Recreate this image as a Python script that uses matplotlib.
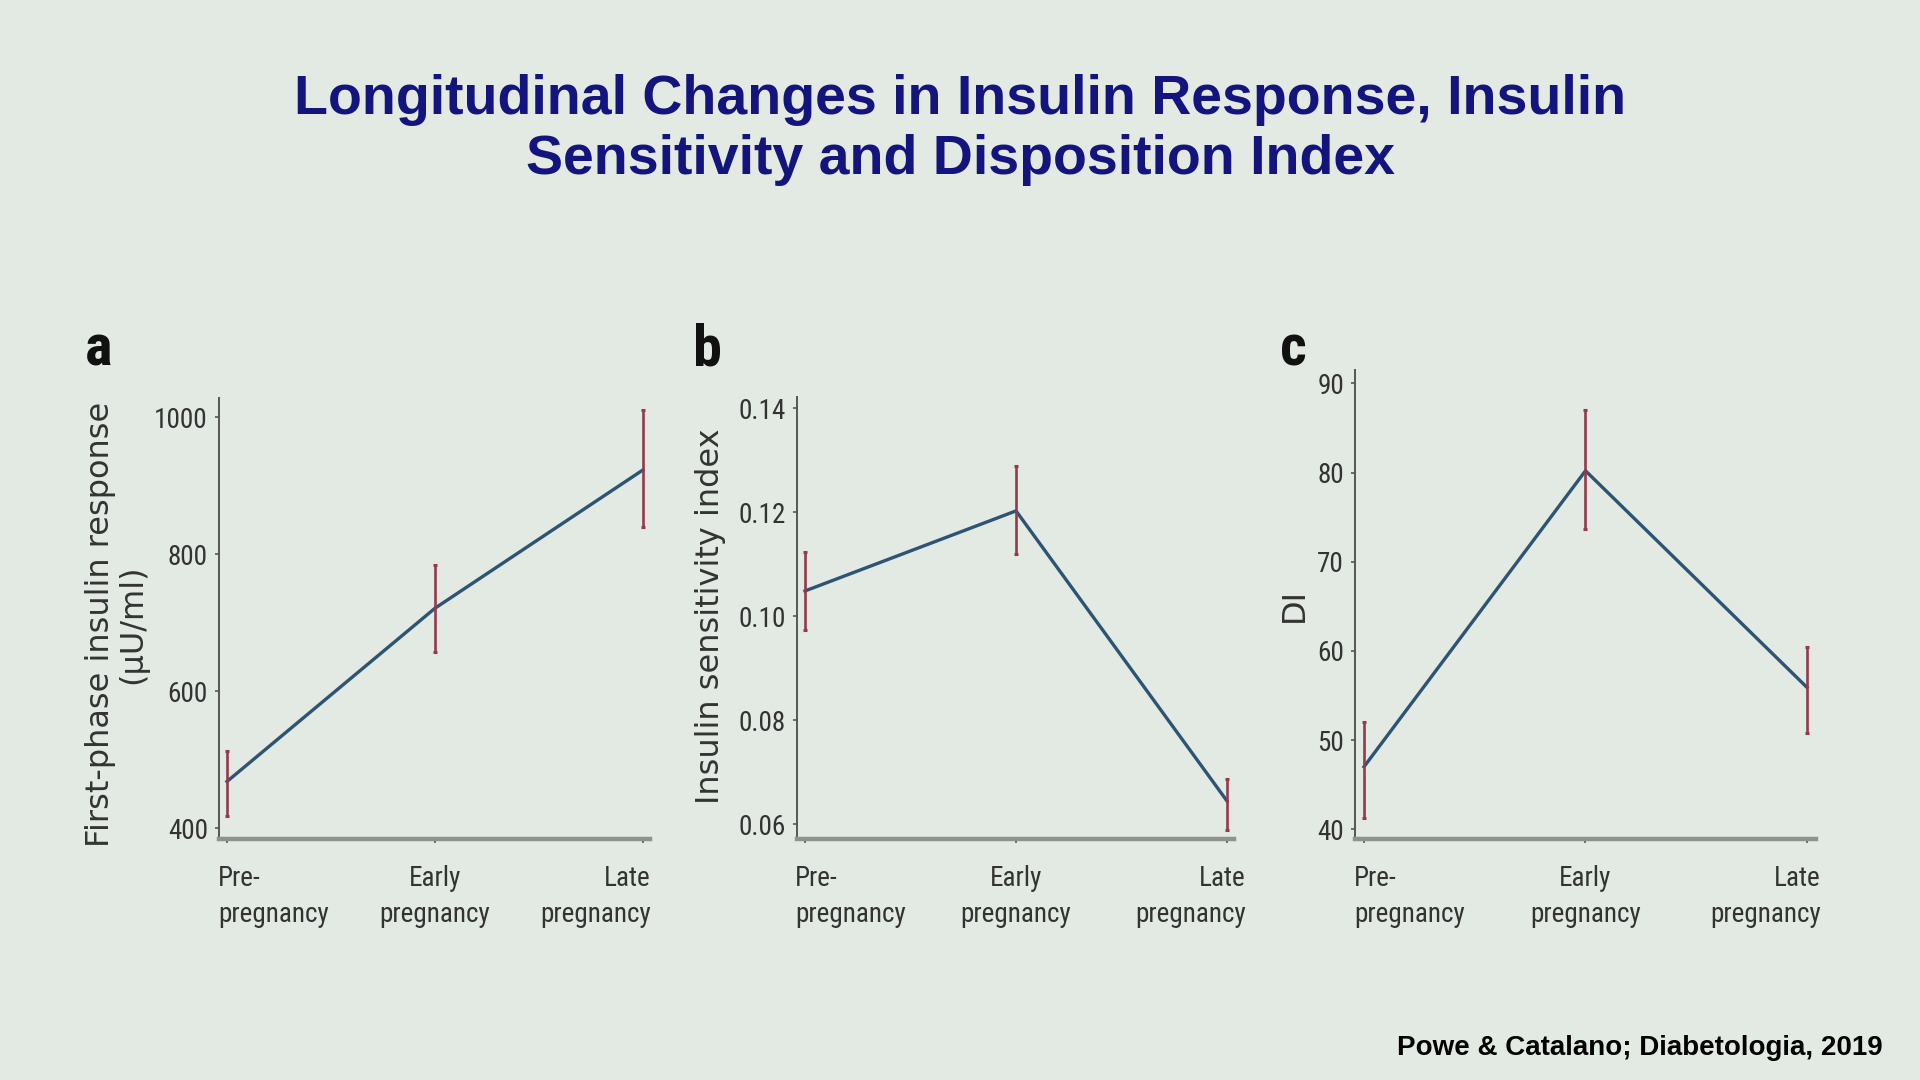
import os
import matplotlib
matplotlib.use('Agg')
import matplotlib.pyplot as plt
from matplotlib import font_manager as fm
from matplotlib.font_manager import FontProperties
from matplotlib.transforms import ScaledTranslation

names = {f.name for f in fm.fontManager.ttflist}
SANS = 'Liberation Sans' if 'Liberation Sans' in names else 'DejaVu Sans'


def find_file(keys):
    for key in keys:
        for f in fm.fontManager.ttflist:
            if key in os.path.basename(f.fname):
                return f.fname
    return None


cond_reg = find_file(['LiberationSansNarrow-Regular', 'RobotoCondensed-Regular',
                      'NotoSans-Condensed.', 'OpenSans-CondensedRegular', 'OpenSans_Condensed-Regular'])
cond_bold = find_file(['LiberationSansNarrow-Bold.', 'RobotoCondensed-Bold.',
                       'NotoSans-CondensedBold.', 'OpenSans-CondensedBold', 'OpenSans_Condensed-Bold.'])

if cond_reg:
    TICK_FP = FontProperties(fname=cond_reg, size=19.5)
else:
    TICK_FP = FontProperties(family=SANS, size=18)
if cond_bold:
    LETTER_FP = FontProperties(fname=cond_bold, size=42)
else:
    LETTER_FP = FontProperties(family=SANS, weight='bold', size=39)

# ---------------- data ----------------
categories = ['Pre-\npregnancy', 'Early\npregnancy', 'Late\npregnancy']

a_mean = [468, 721, 923]
a_low = [418, 657, 839]
a_high = [513, 784, 1010]
a_ticks = [400, 600, 800, 1000]
a_ticklabels = ['400', '600', '800', '1000']

b_mean = [0.1049, 0.1203, 0.0645]
b_low = [0.0974, 0.1121, 0.0589]
b_high = [0.1123, 0.1290, 0.0688]
b_ticks = [0.06, 0.08, 0.10, 0.12, 0.14]
b_ticklabels = ['0.06', '0.08', '0.10', '0.12', '0.14']

c_mean = [47.0, 80.2, 55.9]
c_low = [41.3, 73.7, 50.8]
c_high = [52.0, 87.0, 60.4]
c_ticks = [40, 50, 60, 70, 80, 90]
c_ticklabels = ['40', '50', '60', '70', '80', '90']

title_lines = ['Longitudinal Changes in Insulin Response, Insulin',
               'Sensitivity and Disposition Index']
footer = 'Powe & Catalano; Diabetologia, 2019'

# ---------------- style ----------------
BG = '#e3e9e3'
LINE = '#2d5472'
ERR = '#953a4b'
TXT = '#333333'
TITLE = '#14147f'

fig = plt.figure(figsize=(19.2, 10.8), dpi=100)
fig.patch.set_facecolor(BG)

panels = [
    dict(rect=[0.11406, 0.22315, 0.22448, 0.40833], xlim=(-0.0385, 2.0337), ylim=(384, 1028),
         mean=a_mean, low=a_low, high=a_high, ticks=a_ticks, tl=a_ticklabels, off=(-9, 8)),
    dict(rect=[0.41510, 0.22315, 0.22760, 0.40926], xlim=(-0.038, 2.033), ylim=(0.0572, 0.1422),
         mean=b_mean, low=b_low, high=b_high, ticks=b_ticks, tl=b_ticklabels, off=(-10, 19)),
    dict(rect=[0.70573, 0.22315, 0.24010, 0.43426], xlim=(-0.0406, 2.0406), ylim=(38.9, 91.5),
         mean=c_mean, low=c_low, high=c_high, ticks=c_ticks, tl=c_ticklabels, off=(-10, 14)),
]

x = list(range(len(categories)))
for p in panels:
    ax = fig.add_axes(p['rect'])
    ax.set_facecolor(BG)
    ax.plot(x, p['mean'], color=LINE, lw=2.4, zorder=2, solid_joinstyle='miter')
    yerr = [[m - l for m, l in zip(p['mean'], p['low'])],
            [h - m for m, h in zip(p['mean'], p['high'])]]
    ax.errorbar(x, p['mean'], yerr=yerr, fmt='none', ecolor=ERR, elinewidth=1.9,
                capsize=1.6, capthick=2.2, zorder=3)
    ax.set_xlim(*p['xlim'])
    ax.set_ylim(*p['ylim'])
    ax.set_yticks(p['ticks'])
    ax.set_yticklabels(p['tl'], fontproperties=TICK_FP, color=TXT)
    ax.set_xticks(x)
    ax.set_xticklabels([])
    for xi, lab, ha, dx in zip(x, categories, ['left', 'center', 'right'], [p['off'][0], 0, p['off'][1]]):
        tr = ax.get_xaxis_transform() + ScaledTranslation(dx / 100, -26 / 100, fig.dpi_scale_trans)
        ax.text(xi, 0, lab, transform=tr, ha=ha, va='top', multialignment=ha,
                fontproperties=TICK_FP, color=TXT, linespacing=1.45, clip_on=False)
    for s in ['top', 'right']:
        ax.spines[s].set_visible(False)
    ax.spines['left'].set_color('#555555')
    ax.spines['left'].set_linewidth(1.4)
    ax.spines['bottom'].set_color('#8f938f')
    ax.spines['bottom'].set_linewidth(3.2)
    ax.tick_params(axis='y', length=3, width=1.2, color='#555555', pad=5)
    ax.tick_params(axis='x', length=3, width=1.2, color='#555555')

# y labels
YL = dict(rotation=90, ha='center', va='center', fontfamily='DejaVu Sans', fontsize=23, color=TXT)
fig.text(101 / 1920, 0.4218, 'First-phase insulin response', **YL)
fig.text(133 / 1920, 0.4218, '(μU/ml)', **YL)
fig.text(710 / 1920, 0.4292, 'Insulin sensitivity index', **YL)
fig.text(1294 / 1920, 0.4398, 'DI', **YL)

# panel letters
for lx, letter in zip([99 / 1920, 707 / 1920, 1293 / 1920], ['a', 'b', 'c']):
    fig.text(lx, 1 - 366 / 1080, letter, ha='center', va='baseline', fontproperties=LETTER_FP,
             color='#111111')

# title
fig.text(0.5, 1 - 100 / 1080, title_lines[0], ha='center', va='center', fontfamily=SANS,
         fontweight='bold', fontsize=40, color=TITLE)
fig.text(0.5, 1 - 160 / 1080, title_lines[1], ha='center', va='center', fontfamily=SANS,
         fontweight='bold', fontsize=40, color=TITLE)

# footer
fig.text(0.9807, 1 - 1048 / 1080, footer, ha='right', va='center', fontfamily=SANS,
         fontweight='bold', fontsize=20, color='#000000')

fig.savefig('out.png', dpi=100, facecolor=BG)
